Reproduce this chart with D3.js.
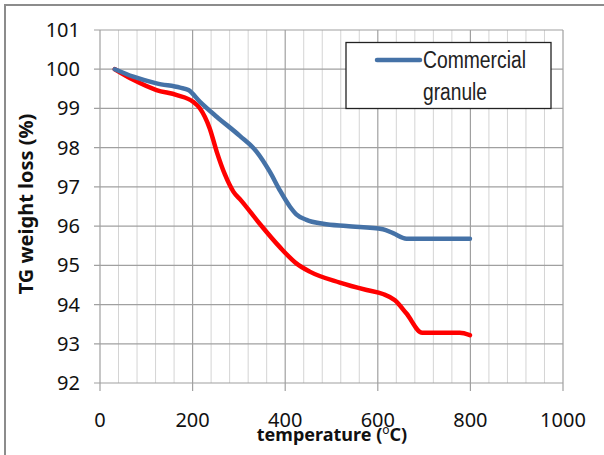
<!DOCTYPE html>
<html><head><meta charset="utf-8">
<script src="https://cdn.jsdelivr.net/npm/d3@7"></script>
<style>body{margin:0;background:#fff;} svg{display:block;}</style>
</head><body>
<svg id="c" width="604" height="455"></svg>
<script>
const xTicks = [0, 200, 400, 600, 800, 1000];
const yTicks = [92, 93, 94, 95, 96, 97, 98, 99, 100, 101];
const legendLabel = ["Commercial", "granule"];
const xTitle = "temperature (";
const yTitle = "TG weight loss (%)";

const commercialT = [32, 72, 122, 173, 191, 216, 252, 302, 338, 367, 388, 410, 424, 446, 482, 532, 611, 633, 662, 700, 750, 799];
const commercialW = [100, 99.81, 99.64, 99.53, 99.47, 99.17, 98.79, 98.3, 97.9, 97.38, 96.92, 96.5, 96.3, 96.16, 96.06, 96.0, 95.92, 95.82, 95.68, 95.68, 95.68, 95.68];

const otherT = [32, 72, 122, 166, 201, 216, 237, 252, 270, 288, 305, 345, 388, 424, 453, 518, 576, 611, 637, 662, 696, 740, 777, 799];
const otherW = [100, 99.73, 99.47, 99.34, 99.17, 99.0, 98.49, 97.9, 97.31, 96.88, 96.65, 96.06, 95.47, 95.05, 94.84, 94.56, 94.37, 94.27, 94.11, 93.77, 93.28, 93.28, 93.28, 93.22];

const svg = d3.select("#c");
const x = d3.scaleLinear().domain([0, 1000]).range([100, 563]);
const y = d3.scaleLinear().domain([92, 101]).range([383, 30]);

// outer frame
svg.append("path").attr("d", "M5,460 L5,5 L610,5").attr("fill", "none")
  .attr("stroke", "#8c8c8c").attr("stroke-width", 2);

// minor vertical grid
const minor = d3.range(40, 1000, 40).filter(v => v % 200 !== 0);
svg.append("g").selectAll("line").data(minor).join("line")
  .attr("x1", d => x(d)).attr("x2", d => x(d)).attr("y1", y(101)).attr("y2", y(92))
  .attr("stroke", "#d4d4d4").attr("stroke-width", 1);
// major vertical grid
svg.append("g").selectAll("line").data(xTicks).join("line")
  .attr("x1", d => x(d)).attr("x2", d => x(d)).attr("y1", y(101)).attr("y2", y(92) + 8)
  .attr("stroke", "#a0a0a0").attr("stroke-width", 1.2);
// horizontal grid
svg.append("g").selectAll("line").data(yTicks).join("line")
  .attr("x1", x(0) - 6).attr("x2", x(1000)).attr("y1", d => y(d)).attr("y2", d => y(d))
  .attr("stroke", "#a0a0a0").attr("stroke-width", 1.2);

// axis labels
const tickFont = "'Noto Sans', 'Open Sans', sans-serif";
svg.append("g").selectAll("text").data(yTicks).join("text")
  .attr("x", 80).attr("y", d => y(d) + 7).attr("text-anchor", "end")
  .attr("font-family", tickFont).attr("font-size", 20).attr("fill", "#111")
  .text(d => d);
svg.append("g").selectAll("text").data(xTicks).join("text")
  .attr("x", d => x(d)).attr("y", 427).attr("text-anchor", "middle")
  .attr("font-family", tickFont).attr("font-size", 20).attr("fill", "#111")
  .text(d => d);

// lines
const line = d3.line().x(d => x(d[0])).y(d => y(d[1])).curve(d3.curveMonotoneX);
svg.append("path").datum(d3.zip(otherT, otherW)).attr("d", line)
  .attr("fill", "none").attr("stroke", "#ff0000").attr("stroke-width", 4.5)
  .attr("stroke-linejoin", "round").attr("stroke-linecap", "round");
svg.append("path").datum(d3.zip(commercialT, commercialW)).attr("d", line)
  .attr("fill", "none").attr("stroke", "#4572a7").attr("stroke-width", 4.5)
  .attr("stroke-linejoin", "round").attr("stroke-linecap", "round");

// legend
svg.append("rect").attr("x", 346).attr("y", 42.5).attr("width", 205).attr("height", 66)
  .attr("fill", "#fff").attr("stroke", "#222").attr("stroke-width", 1.3);
svg.append("line").attr("x1", 377).attr("x2", 420).attr("y1", 60).attr("y2", 60)
  .attr("stroke", "#4572a7").attr("stroke-width", 4.5).attr("stroke-linecap", "round");
const legFont = "'Liberation Sans Narrow', 'Liberation Sans', sans-serif";
svg.append("text").attr("x", 423).attr("y", 68).attr("font-family", legFont)
  .attr("font-size", 23).attr("fill", "#222")
  .attr("textLength", 103).attr("lengthAdjust", "spacingAndGlyphs").text(legendLabel[0]);
svg.append("text").attr("x", 423).attr("y", 100).attr("font-family", legFont)
  .attr("font-size", 23).attr("fill", "#222")
  .attr("textLength", 64).attr("lengthAdjust", "spacingAndGlyphs").text(legendLabel[1]);

// titles
svg.append("text").attr("transform", "translate(33,204) rotate(-90)")
  .attr("text-anchor", "middle").attr("font-family", tickFont).attr("font-weight", "bold")
  .attr("font-size", 20).attr("fill", "#111").text(yTitle);
const xt = svg.append("text").attr("x", 332).attr("y", 441).attr("text-anchor", "middle")
  .attr("font-family", tickFont).attr("font-weight", "bold").attr("font-size", 18).attr("fill", "#111");
xt.append("tspan").text(xTitle);
xt.append("tspan").attr("dy", -7).attr("font-size", 12).attr("font-weight", "normal").text("o");
xt.append("tspan").attr("dy", 7).text("C)");
</script>
</body></html>
